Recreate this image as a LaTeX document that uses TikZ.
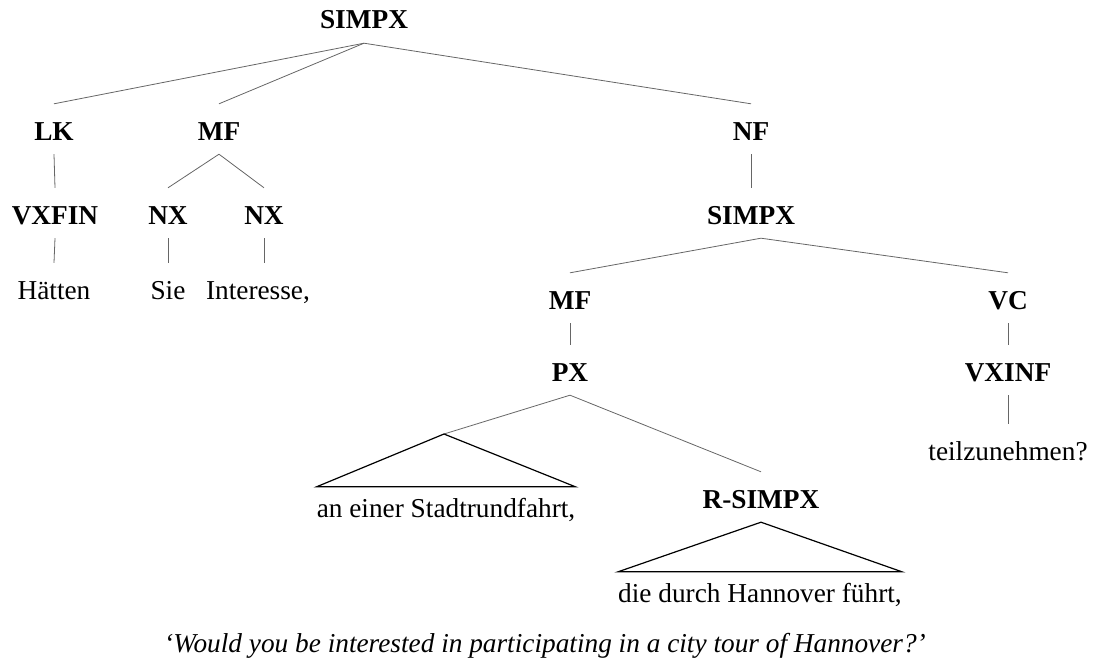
\documentclass[tikz,border=0pt]{standalone}
\usepackage{fontspec}
\setmainfont{Liberation Serif}

\begin{document}
\begin{tikzpicture}[x=1pt, y=-1pt,
    cat/.style={font=\fontsize{27.3}{32}\selectfont\bfseries, anchor=base,
        inner xsep=0pt, inner ysep=8pt, text height=28pt, text depth=6pt},
    word/.style={font=\fontsize{27.3}{32}\selectfont, anchor=base,
        inner xsep=0pt, inner ysep=8pt, text height=28pt, text depth=6pt},
    yield/.style={word, text height=22pt},
    edge/.style={draw=black!60, line width=0.8pt},
    roof/.style={draw=black, line width=1.2pt}]
    \useasboundingbox (0,0) rectangle (1096,661);

    % Categories
    \node[cat] (simpx) at (364,29) {SIMPX};
    \node[cat] (lk) at (54,140) {LK};
    \node[cat] (mf) at (219,140) {MF};
    \node[cat] (nf) at (751,140) {NF};
    \node[cat] (vxfin) at (55,224) {VXFIN};
    \node[cat] (nxa) at (168,224) {NX};
    \node[cat] (nxb) at (264,224) {NX};
    \node[cat] (simpxb) at (751,224) {SIMPX};
    \node[cat] (mfb) at (570,309) {MF};
    \node[cat] (vc) at (1008,309) {VC};
    \node[cat] (px) at (570,381) {PX};
    \node[cat] (vxinf) at (1008,381) {VXINF};
    \node[cat] (rsimpx) at (761,508) {R-SIMPX};

    % Words
    \node[word] (haetten) at (54,299) {Hätten};
    \node[word] (sie) at (168,299) {Sie};
    \node[word] (interesse) at (258,299) {Interesse,};
    \node[word] (teil) at (1008,460) {teilzunehmen?};
    \node[yield] (stadt) at (446,517) {an einer Stadtrundfahrt,};
    \node[yield] (hannover) at (760,602) {die durch Hannover führt,};
    \coordinate (stadttop) at (444,434);

    % Branches
    \draw[edge] (simpx.south) -- (lk.north);
    \draw[edge] (simpx.south) -- (mf.north);
    \draw[edge] (simpx.south) -- (nf.north);
    \draw[edge] (lk.south) -- (vxfin.north);
    \draw[edge] (vxfin.south) -- (haetten.north);
    \draw[edge] (mf.south) -- (nxa.north);
    \draw[edge] (mf.south) -- (nxb.north);
    \draw[edge] (nxa.south) -- (sie.north);
    \draw[edge] (nxb.south) -- (nxb.south |- interesse.north);
    \draw[edge] (nf.south) -- (simpxb.north);
    \draw[edge] ([xshift=10pt]simpxb.south) -- (mfb.north);
    \draw[edge] ([xshift=10pt]simpxb.south) -- (vc.north);
    \draw[edge] (mfb.south) -- (px.north);
    \draw[edge] (vc.south) -- (vxinf.north);
    \draw[edge] (vxinf.south) -- (teil.north);
    \draw[edge] (px.south) -- (stadttop);
    \draw[edge] (px.south) -- (rsimpx.north);

    % Roofs
    \draw[roof] (stadttop) -- (stadt.north west) -- (stadt.north east) -- cycle;
    \draw[roof] (rsimpx.south) -- (hannover.north west) -- (hannover.north east) -- cycle;

    % Translation
    \node[word, font=\fontsize{27.3}{32}\selectfont\itshape] (gloss) at (545,652)
        {`Would you be interested in participating in a city tour of Hannover?'};
\end{tikzpicture}
\end{document}
